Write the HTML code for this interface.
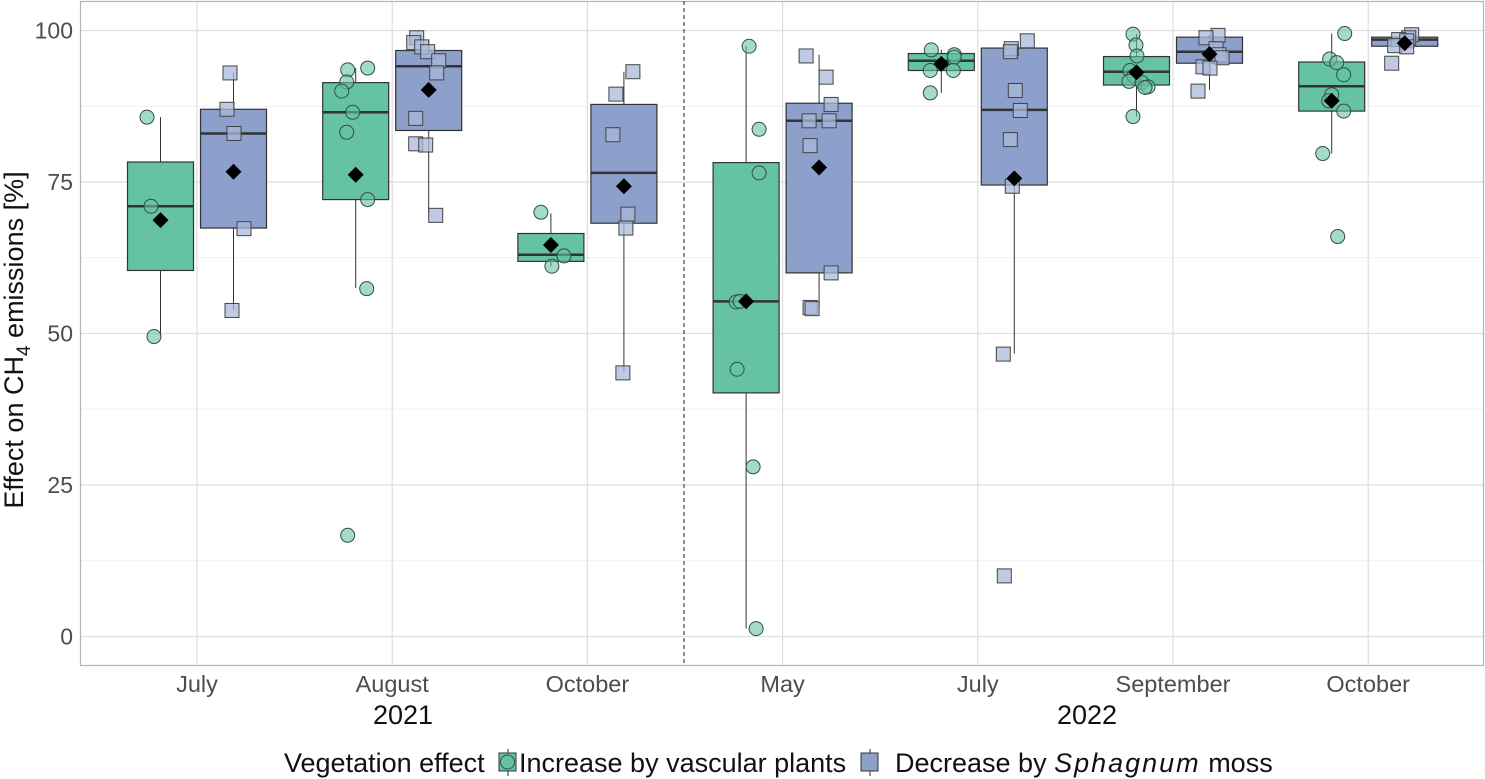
<!DOCTYPE html>
<html><head><meta charset="utf-8"><style>
body{margin:0;background:#fff;}
svg{display:block;font-family:"Liberation Sans",Arial,sans-serif;}
</style></head><body>
<svg id="chart" width="1485" height="779">
<rect x="0" y="0" width="1485" height="779" fill="#fff"/>
<g id="grid"></g>
<g id="marks"></g>
<rect x="80.5" y="1.5" width="1403" height="664" fill="none" stroke="#b3b3b3" stroke-width="1.2"/>
<line x1="684" y1="1" x2="684" y2="665" stroke="#222" stroke-width="1" stroke-dasharray="4,3"/>
<g id="axes"></g>
<text x="403" y="724" text-anchor="middle" font-size="27" fill="#111">2021</text>
<text x="1087" y="724" text-anchor="middle" font-size="27" fill="#111">2022</text>
<text transform="translate(23,340) rotate(-90)" text-anchor="middle" font-size="27" fill="#111">Effect on CH<tspan font-size="19" dy="7">4</tspan><tspan dy="-7"> emissions [%]</tspan></text>
<g font-size="27" fill="#111">
<text x="284" y="772">Vegetation effect</text>
<g>
<line x1="508" y1="749" x2="508" y2="776" stroke="#333"/>
<rect x="499" y="753" width="17" height="18" fill="#66c2a5" stroke="#333"/>
<circle cx="507.5" cy="762" r="7" fill="rgba(102,194,165,0.6)" stroke="#2f4f45"/>
<text x="519" y="772">Increase by vascular plants</text>
</g>
<g>
<line x1="870" y1="749" x2="870" y2="776" stroke="#333"/>
<rect x="861" y="753" width="17" height="18" fill="#8da0cb" stroke="#333"/>
<text x="895" y="772">Decrease by <tspan font-style="italic" letter-spacing="2">Sphagnum</tspan> moss</text>
</g>
</g>
</svg>
<script>
const categories=["July","August","October","May","July","September","October"];
const yTicks=[0,25,50,75,100];
// box stats per group: [lo, q1, median, q3, hi]
const greenStats=[[49.5,60.4,71.0,78.3,85.7],[57.5,72.1,86.5,91.4,93.8],[61.1,61.9,63.0,66.5,69.8],[1.3,40.2,55.3,78.2,97.4],[89.7,93.4,95.0,96.2,96.8],[85.8,91.0,93.2,95.7,99.4],[79.7,86.7,90.8,94.8,99.5]];
const blueStats=[[53.9,67.4,83.0,87.0,93.0],[69.9,83.5,94.1,96.7,98.5],[43.7,68.2,76.5,87.8,93.2],[54.3,60.0,85.1,88.0,96.0],[46.7,74.5,86.9,97.1,97.1],[90.2,94.6,96.5,98.9,99.3],[97.0,97.4,98.5,98.9,99.3]];
const greenMeans=[68.7,76.2,64.6,55.3,94.5,93.1,88.4];
const blueMeans=[76.7,90.2,74.3,77.4,75.6,96.1,97.9];
const greenPoints=[[85.7,71,49.5],[93.5,93.8,91.5,90,86.5,83.2,72.1,57.4,16.7],[70,62.8,61.1],[97.4,83.7,76.5,55.2,55.3,44.1,28.0,1.3],[96.8,96,95.6,93.4,93.4,89.7],[99.4,97.6,95.8,93.4,92.5,91.6,91.4,90.7,90.6,85.8],[99.5,95.3,94.7,92.7,89.4,88.4,86.7,79.7,66]];
const greenJitter=[[-13.5,-9.5,-6.5],[-8,12,-9,-14,-3,-9,12,11,-8],[-10,13,1],[3,13,13,-10,-6,-9,7,10],[-10,13,13,-11,12,-11],[-3.5,-0.5,0.5,-6.5,-2.5,-7.5,5.5,11.5,8.5,-3.5],[13,-2,5,12,0,-3,12,-9,6]];
const bluePoints=[[93,87,83,67.3,53.8],[98.8,98,97.3,96.5,95,93,85.5,81.3,81.1,69.5],[93.2,89.5,82.8,69.7,67.4,43.5],[95.8,92.3,87.8,85.1,85.1,81,60,54.3,54.1],[98.3,97,96.5,90.1,86.8,82,74.3,46.6,10],[99.2,98.8,97,96,95.5,94,93.8,90],[99.3,98.8,98.5,98.3,97.5,97.3,94.6]];
const blueJitter=[[-3.5,-6.5,0.5,10.5,-1.5],[-12,-15,-7,-1,10,8,-13,-13,-3,7],[9,-8,-11,4,2,-1],[-13,7,12,-10,10,-9,12,-9,-7],[13,-3,-4,1,6,-4,-2,-11,-10],[8.5,-3.5,6.5,9.5,12.5,-6.5,0.5,-11.5],[7,4,-6,2,-10,2,-13]];

const NS="http://www.w3.org/2000/svg";
const X0=197,DX=195.2,Y0=636.5,KY=6.06,OFF=36.5,BW=66;
function xCat(i){return X0+DX*i;}
function yV(v){return Y0-KY*v;}
function mk(tag,attrs,parent){const e=document.createElementNS(NS,tag);for(const k in attrs)e.setAttribute(k,attrs[k]);parent.appendChild(e);return e;}
const grid=document.getElementById('grid'),marks=document.getElementById('marks'),axes=document.getElementById('axes');
for(let i=0;i<yTicks.length-1;i++){const v=(yTicks[i]+yTicks[i+1])/2;const l=mk('line',{x1:80,x2:1484,y1:yV(v),y2:yV(v),stroke:'#ececec','stroke-width':0.8},grid);

}
yTicks.forEach(v=>{const l=mk('line',{x1:80,x2:1484,y1:yV(v),y2:yV(v),stroke:'#dedede','stroke-width':1.2},grid);


const t=mk('text',{x:73,y:yV(v)+8,'text-anchor':'end','font-size':23,fill:'#4d4d4d'},axes);t.textContent=v;

});
categories.forEach((c,i)=>{const l=mk('line',{x1:xCat(i),x2:xCat(i),y1:1,y2:665,stroke:'#dedede','stroke-width':1.2},grid);


const t=mk('text',{x:xCat(i),y:692,'text-anchor':'middle','font-size':23.5,fill:'#4d4d4d'},axes);t.textContent=c;

});
function drawBox(s,cx,fill,name){const g=mk('g',{},marks);


mk('line',{x1:cx,x2:cx,y1:yV(s[0]),y2:yV(s[1]),stroke:'#333','stroke-width':1},g);
mk('line',{x1:cx,x2:cx,y1:yV(s[3]),y2:yV(s[4]),stroke:'#333','stroke-width':1},g);
mk('rect',{x:cx-BW/2,y:yV(s[3]),width:BW,height:yV(s[1])-yV(s[3]),fill:fill,stroke:'#333','stroke-width':1.2},g);
mk('line',{x1:cx-BW/2,x2:cx+BW/2,y1:yV(s[2]),y2:yV(s[2]),stroke:'#333','stroke-width':2.5},g);}
function drawPts(vals,jit,cx,shape,name){vals.forEach((v,j)=>{let e;const x=cx+jit[j],y=yV(v);
if(shape==='c')e=mk('circle',{cx:x,cy:y,r:7,fill:'rgba(102,194,165,0.6)',stroke:'#2f4f45','stroke-width':1},marks);
else e=mk('rect',{x:x-7,y:y-7,width:14,height:14,fill:'rgba(170,184,218,0.75)',stroke:'#444','stroke-width':1},marks);

});}
function drawMean(v,cx,name){const y=yV(v),r=8;const e=mk('polygon',{points:`${cx},${y-r} ${cx+r},${y} ${cx},${y+r} ${cx-r},${y}`,fill:'#000'},marks);

}
categories.forEach((c,i)=>{const gx=xCat(i)-OFF,bx=xCat(i)+OFF;
drawBox(greenStats[i],gx,'#66c2a5','box-increase');
drawBox(blueStats[i],bx,'#8da0cb','box-decrease');
drawPts(greenPoints[i],greenJitter[i],gx,'c','point-increase');
drawPts(bluePoints[i],blueJitter[i],bx,'s','point-decrease');
drawMean(greenMeans[i],gx,'mean-increase');
drawMean(blueMeans[i],bx,'mean-decrease');});
</script>
</body></html>
